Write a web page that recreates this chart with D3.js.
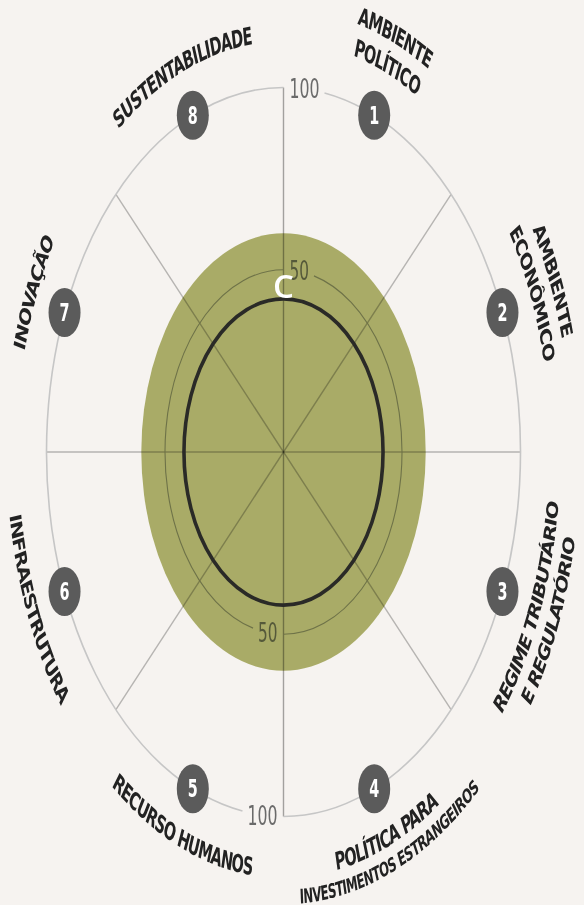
<!DOCTYPE html>
<html>
<head>
<meta charset="utf-8">
<script src="https://cdn.jsdelivr.net/npm/d3@7"></script>
<style>
    html, body { margin: 0; padding: 0; background: #f6f3f0; }
    svg { display: block; }
</style>
</head>
<body>
<svg id="chart" width="584" height="905"></svg>
<script>
// pillars, clockwise from the top
var pillarNumbers = [1, 2, 3, 4, 5, 6, 7, 8];
var pillarLabels = [
    ["AMBIENTE", "POLÍTICO"],
    ["AMBIENTE", "ECONÔMICO"],
    ["REGIME TRIBUTÁRIO", "E REGULATÓRIO"],
    ["POLÍTICA PARA", "INVESTIMENTOS ESTRANGEIROS"],
    ["RECURSO HUMANOS"],
    ["INFRAESTRUTURA"],
    ["INOVAÇÃO"],
    ["SUSTENTABILIDADE"]
];
var gridTicks = [50, 100];
var bandValue = [60];    // green disc
var scoreValue = [42];   // black ring
var scoreGrade = ["C"];

var svg = d3.select("#chart");
var cx = 283.5, cy = 452, R = 237, stretchY = 364.5 / 237;
var labelFont = "'Liberation Sans Narrow', 'DejaVu Sans Condensed', sans-serif";

var r = d3.scaleLinear().domain([0, 100]).range([0, R]);
var angle = d3.scaleLinear().domain([0, pillarNumbers.length]).range([0, 2 * Math.PI]);
var pillarAngle = function (i) { return angle(i + 0.5); };

svg.append("rect").attr("width", 584).attr("height", 905).attr("fill", "#f6f3f0");

// the whole chart is drawn round, then stretched vertically like the original
var g = svg.append("g")
    .attr("transform", "translate(" + cx + "," + cy + ") scale(1," + stretchY + ")");
var defs = svg.append("defs");

function point(a, rad) {
    return [rad * Math.sin(a), -rad * Math.cos(a)];
}

function arcPath(rad, a0, a1, ccw) {
    var p = d3.path();
    var s = point(a0, rad);
    p.moveTo(s[0], s[1]);
    p.arc(0, 0, rad, a0 - Math.PI / 2, a1 - Math.PI / 2, !!ccw);
    return p.toString();
}

// green band
g.append("circle")
    .attr("r", r(bandValue[0]))
    .attr("fill", "#a9ab67");

// spokes
for (var i = 0; i < pillarNumbers.length / 2; i++) {
    var p0 = point(angle(i), R), p1 = point(angle(i) + Math.PI, R);
    g.append("line")
        .attr("x1", p0[0]).attr("y1", p0[1])
        .attr("x2", p1[0]).attr("y2", p1[1])
        .attr("stroke", i === 0 ? "#a8a8a8" : "#bdbdbd")
        .attr("stroke-width", 1.4)
        .attr("vector-effect", "non-scaling-stroke")
        .style("mix-blend-mode", "multiply");
}

// grid rings, broken where their value label sits
var ringLayer = g.append("g");
gridTicks.forEach(function (t) {
    var rad = r(t);
    var inBand = t < bandValue[0];
    var gapAngle = 0;

    [1, -1].forEach(function (side) {
        var txt = g.append("text")
            .attr("font-family", labelFont)
            .attr("font-size", inBand ? 17 : 17.5)
            .attr("fill", inBand ? "#55593a" : "#6a6a6a")
            .attr("text-anchor", "middle")
            .attr("dominant-baseline", "central")
            .text(t);
        var w = txt.node().getComputedTextLength();
        var x = side * (6 + w / 2);
        txt.attr("x", x).attr("y", -side * Math.sqrt(rad * rad - x * x));
        gapAngle = Math.asin((6 + w + 5) / rad);
    });

    ringLayer.append("path")
        .attr("d", arcPath(rad, gapAngle, Math.PI) + arcPath(rad, Math.PI + gapAngle, 2 * Math.PI))
        .attr("fill", "none")
        .attr("stroke", inBand ? "#6e7248" : "#c6c6c6")
        .attr("stroke-width", inBand ? 1.1 : 1.6)
        .attr("vector-effect", "non-scaling-stroke");
});

// score ring
g.append("circle")
    .attr("r", r(scoreValue[0]))
    .attr("fill", "none")
    .attr("stroke", "#2a2a27")
    .attr("stroke-width", 3.6)
    .attr("vector-effect", "non-scaling-stroke");

// numbered markers
var markers = g.selectAll("g.marker")
    .data(pillarNumbers)
    .enter().append("g")
    .attr("class", "marker")
    .attr("transform", function (d, i) {
        return "translate(" + point(pillarAngle(i), R) + ")";
    });

markers.append("circle")
    .attr("r", 16)
    .attr("fill", "#5b5b5b");

markers.append("text")
    .attr("text-anchor", "middle")
    .attr("dominant-baseline", "central")
    .attr("font-family", labelFont)
    .attr("font-weight", "bold")
    .attr("font-size", 16)
    .attr("fill", "#fff")
    .text(function (d) { return d; });

// curved pillar names (paths are in the stretched group's coordinates)
pillarLabels.forEach(function (lines, i) {
    var a = pillarAngle(i);
    var upper = Math.cos(a) > 0;
    var n = lines.length;

    lines.forEach(function (line, k) {
        var small = line.length > 20;
        var rad = upper ? 267 + (n - 1 - k) * 21 : 277 + k * (small ? 17 : 20);
        var id = "lp-" + i + "-" + k;
        defs.append("path")
            .attr("id", id)
            .attr("d", upper ? arcPath(rad, a - 1.5, a + 1.5) : arcPath(rad, a + 1.5, a - 1.5, true));

        g.append("text")
            .attr("font-family", labelFont)
            .attr("font-weight", "bold")
            .attr("font-size", small ? 13 : 16)
            .attr("letter-spacing", small ? -0.6 : -0.8)
            .attr("fill", "#222")
            .append("textPath")
            .attr("href", "#" + id)
            .attr("startOffset", "50%")
            .attr("text-anchor", "middle")
            .text(line);
    });
});

// grade
svg.append("text")
    .attr("x", cx)
    .attr("y", cy - r(scoreValue[0]) * stretchY - 1)
    .attr("text-anchor", "middle")
    .attr("font-family", "'Open Sans', 'Liberation Sans', sans-serif")
    .attr("font-weight", 600)
    .attr("font-size", 33)
    .attr("fill", "#ffffff")
    .text(scoreGrade[0]);
</script>
</body>
</html>
